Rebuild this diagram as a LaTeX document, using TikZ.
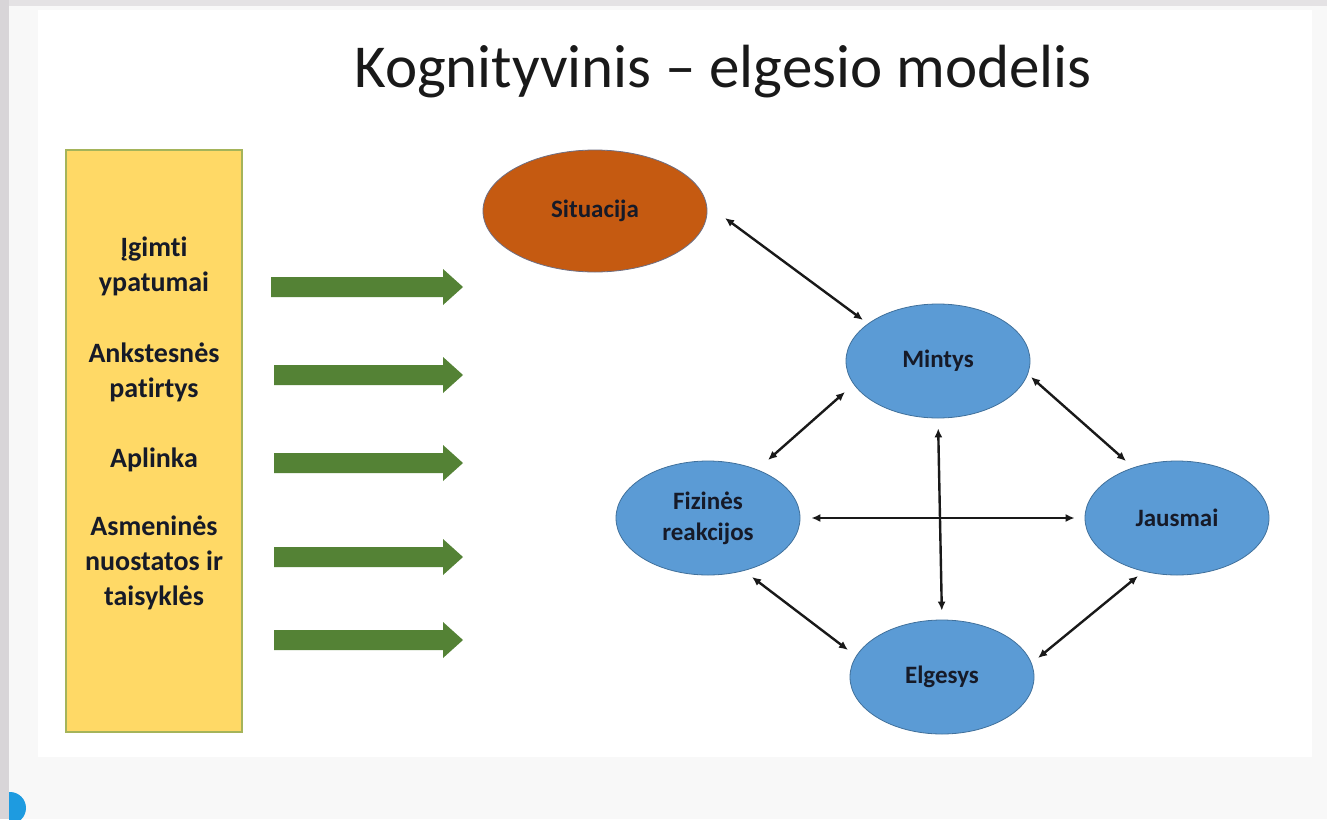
\documentclass[tikz,border=0pt]{standalone}
\usepackage{fontspec}
\setmainfont[RawFeature=-liga]{Carlito}
\usetikzlibrary{arrows.meta,shapes.geometric}
\definecolor{bgc}{RGB}{248,248,248}
\definecolor{topc}{RGB}{228,226,228}
\definecolor{leftc}{RGB}{216,213,216}
\definecolor{boxfill}{RGB}{255,217,102}
\definecolor{boxline}{RGB}{165,180,90}
\definecolor{arrgreen}{RGB}{84,130,53}
\definecolor{orangefill}{RGB}{197,90,17}
\definecolor{orangeline}{RGB}{110,110,130}
\definecolor{bluefill}{RGB}{91,155,213}
\definecolor{blueline}{RGB}{65,113,156}
\definecolor{txtdark}{RGB}{22,26,40}
\definecolor{uiblue}{RGB}{30,155,224}
\begin{document}
\begin{tikzpicture}[x=1pt,y=-1pt,
  oval/.style={ellipse, draw=blueline, line width=0.8pt, fill=bluefill, inner sep=0pt,
    minimum width=184pt, minimum height=114pt, text=txtdark, align=center,
    font=\fontsize{25}{31}\selectfont\bfseries},
  boxtext/.style={align=center, text=txtdark, font=\fontsize{28}{35}\selectfont\bfseries},
  link/.style={line width=2.4pt, draw=black!90, {Latex[length=9pt,width=8pt]}-{Latex[length=9pt,width=8pt]}},
  greenarrow/.style={fill=arrgreen}
]
\useasboundingbox (0,0) rectangle (1327,819);
% background
\fill[bgc] (0,0) rectangle (1327,819);
\fill[topc] (0,0) rectangle (1327,6);
\fill[white] (38,10) rectangle (1312,757);
\begin{scope}
\clip (9,0) rectangle (40,819);
\fill[uiblue] (10,808) circle (16);
\end{scope}
\fill[leftc] (0,0) rectangle (9,819);

% title
\node[font=\fontsize{61}{70}\selectfont, text=black!90] (title) at (723,72) {Kognityvinis – elgesio modelis};

% yellow box
\node[draw=boxline, line width=1.2pt, fill=boxfill, minimum width=176pt, minimum height=582pt, inner sep=0pt] (box) at (154,441) {};
\node[boxtext] (t1) at (154,266) {Įgimti\\ypatumai};
\node[boxtext] (t2) at (154,372) {Ankstesnės\\patirtys};
\node[boxtext] (t3) at (154,460) {Aplinka};
\node[boxtext] (t4) at (154,563) {Asmeninės\\nuostatos ir\\taisyklės};

% green block arrows
\foreach \yy/\xs in {287/271,375/274,463/274,557/274,640/274}{
  \fill[greenarrow] (\xs,\yy-10) -- (443,\yy-10) -- (443,\yy-18) -- (463,\yy) -- (443,\yy+18) -- (443,\yy+10) -- (\xs,\yy+10) -- cycle;
}

% ellipses
\node[oval, fill=orangefill, draw=orangeline, minimum width=224pt, minimum height=122pt] (sit) at (595,211) {Situacija};
\node[oval] (min) at (938,361) {Mintys};
\node[oval] (fiz) at (708,518) {Fizinės\\reakcijos};
\node[oval] (jau) at (1177,518) {Jausmai};
\node[oval] (elg) at (942,677) {Elgesys};

% connector end points
\coordinate (a1) at (725,218);
\coordinate (a2) at (863,320);
\coordinate (b1) at (845,392);
\coordinate (b2) at (768,460);
\coordinate (c1) at (1031,377);
\coordinate (c2) at (1126,461);
\coordinate (d1) at (752,577);
\coordinate (d2) at (848,650);
\coordinate (e1) at (1138,576);
\coordinate (e2) at (1038,658);

\draw[link] (a1) -- (a2);
\draw[link] (b1) -- (b2);
\draw[link] (c1) -- (c2);
\draw[link] (d1) -- (d2);
\draw[link] (e1) -- (e2);
\draw[link, shorten <=10pt, shorten >=9pt] (min.south) -- (elg.north);
\draw[link, shorten <=11pt, shorten >=10pt] (fiz.east) -- (jau.west);
\end{tikzpicture}
\end{document}
